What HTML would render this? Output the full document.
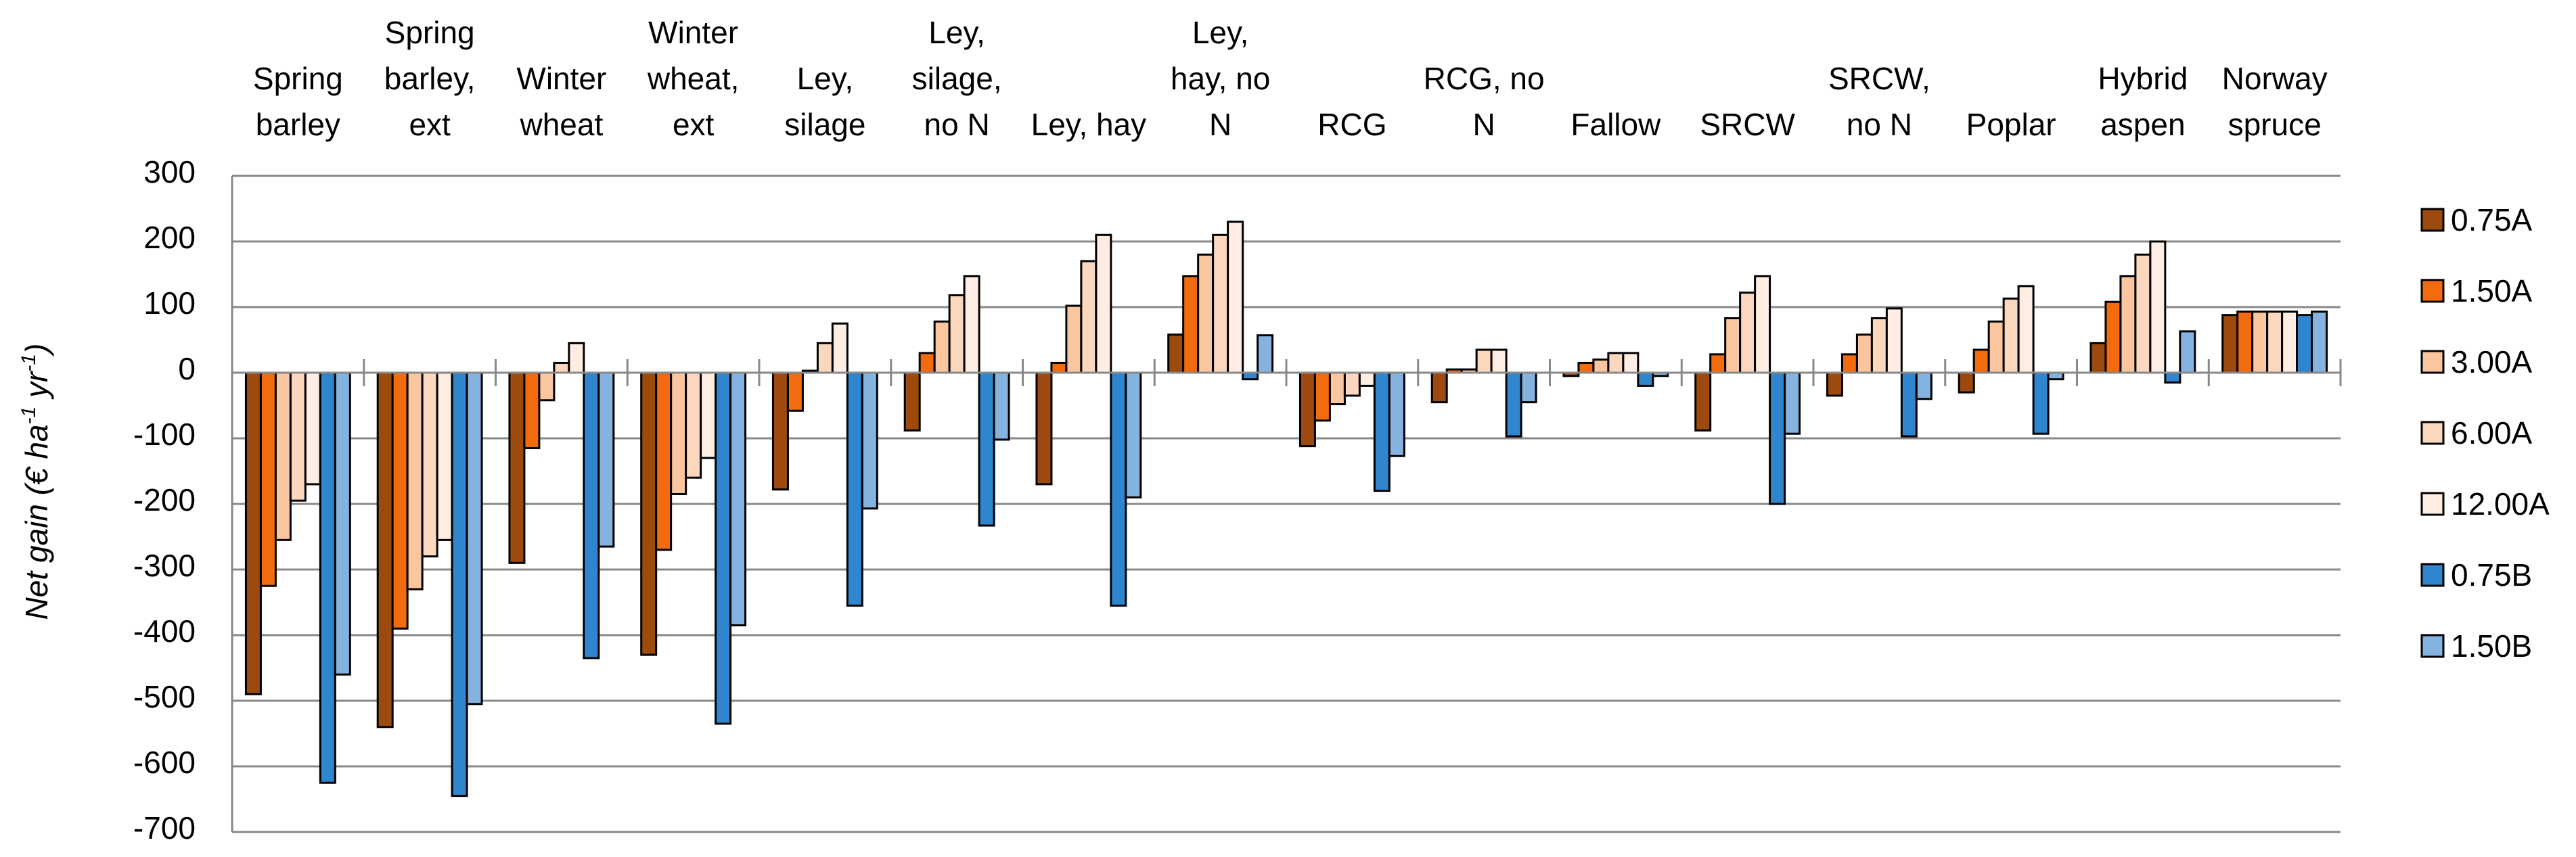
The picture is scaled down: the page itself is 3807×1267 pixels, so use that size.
<!DOCTYPE html>
<html><head><meta charset="utf-8"><style>
html,body{margin:0;padding:0;background:#fff;}
svg{display:block;font-family:"Liberation Sans",sans-serif;}
</style></head><body>
<svg id="chart" width="3807" height="1267" viewBox="0 0 3807 1267" xmlns="http://www.w3.org/2000/svg">
<text transform="translate(70,712) rotate(-90)" text-anchor="middle" font-size="46" font-style="italic" fill="#000">Net gain (€ ha<tspan dy="-18" font-size="30">-1</tspan><tspan dy="18"> yr</tspan><tspan dy="-18" font-size="30">-1</tspan><tspan dy="18">)</tspan></text>
</svg>
<script>
const categories = [["Spring","barley"],["Spring","barley,","ext"],["Winter","wheat"],["Winter","wheat,","ext"],["Ley,","silage"],["Ley,","silage,","no N"],["Ley, hay"],["Ley,","hay, no","N"],["RCG"],["RCG, no","N"],["Fallow"],["SRCW"],["SRCW,","no N"],["Poplar"],["Hybrid","aspen"],["Norway","spruce"]];
const seriesNames = ["0.75A","1.50A","3.00A","6.00A","12.00A","0.75B","1.50B"];
const s075A = [-490,-540,-290,-430,-178,-88,-170,58,-112,-45,-5,-88,-35,-30,45,88];
const s150A = [-325,-390,-115,-270,-58,30,15,147,-73,5,15,28,28,35,108,93];
const s300A = [-255,-330,-42,-185,3,78,102,180,-48,5,20,83,58,78,147,93];
const s600A = [-195,-280,15,-160,45,118,170,210,-35,35,30,122,83,113,180,93];
const s1200A = [-170,-255,45,-130,75,147,210,230,-20,35,30,147,98,132,200,93];
const s075B = [-625,-645,-435,-535,-355,-233,-355,-10,-180,-97,-20,-200,-97,-93,-15,88];
const s150B = [-460,-505,-265,-385,-207,-102,-190,57,-127,-45,-5,-93,-40,-10,63,93];
const yTicks = [300,200,100,0,-100,-200,-300,-400,-500,-600,-700];

const series = [s075A,s150A,s300A,s600A,s1200A,s075B,s150B];
const colors = ["#9C4A0E","#F26B0F","#F9C6A0","#FBD7BD","#FDEDE2","#2F86CF","#85B3E0"];
const svg = document.getElementById('chart');
const NS = "http://www.w3.org/2000/svg";
const X0 = 343, X1 = 3459, Y0 = 260, Y1 = 1230, YMAX = 300, YMIN = -700;
const catW = (X1 - X0) / categories.length;
const barW = catW * 0.79 / series.length;
function y(v){ return Y0 + (YMAX - v) / (YMAX - YMIN) * (Y1 - Y0); }
function xCat(i){ return X0 + i * catW; }
function mk(tag, attrs){ const e = document.createElementNS(NS, tag); for (const k in attrs) e.setAttribute(k, attrs[k]); svg.appendChild(e); return e; }

yTicks.forEach(t => {
  if (t !== 0) {
    const g = mk('line', {x1:X0, x2:X1, y1:y(t), y2:y(t), stroke:'#888', 'stroke-width':3});
    
    
  }
  const tl = mk('text', {x:289, y:y(t)+10, 'text-anchor':'end', 'font-size':46, fill:'#000'});
  tl.textContent = t;
  
  
});
const ax = mk('line', {x1:X0, x2:X0, y1:Y0, y2:Y1, stroke:'#888', 'stroke-width':3});



categories.forEach((lines, i) => {
  const cx = xCat(i) + catW / 2;
  const n = lines.length;
  lines.forEach((ln, j) => {
    const t = mk('text', {x:cx, y:200 - (n - 1 - j) * 68, 'text-anchor':'middle', 'font-size':46, fill:'#000'});
    t.textContent = ln;
    
    
  });
  const start = xCat(i) + (catW - barW * series.length) / 2;
  series.forEach((s, k) => {
    const v = s[i];
    const top = Math.min(y(v), y(0)), h = Math.abs(y(v) - y(0));
    const r = mk('rect', {x:start + k * barW, y:top, width:barW, height:Math.max(h, 1), fill:colors[k], stroke:'#000', 'stroke-width':3});
    
    
  });
});
const zl = mk('line', {x1:X0, x2:X1, y1:y(0), y2:y(0), stroke:'#888', 'stroke-width':3});


for (let i = 1; i <= categories.length; i++) {
  const tk = mk('line', {x1:xCat(i), x2:xCat(i), y1:y(0)-20, y2:y(0)+20, stroke:'#888', 'stroke-width':3});
  
  
}
seriesNames.forEach((nm, k) => {
  const ly = 325 + k * 105;
  const sq = mk('rect', {x:3579, y:ly-16, width:32, height:32, fill:colors[k], stroke:'#000', 'stroke-width':3});
  
  
  const lt = mk('text', {x:3622, y:ly+16, 'font-size':46, fill:'#000'});
  lt.textContent = nm;
  
  
});
</script>
</body></html>
